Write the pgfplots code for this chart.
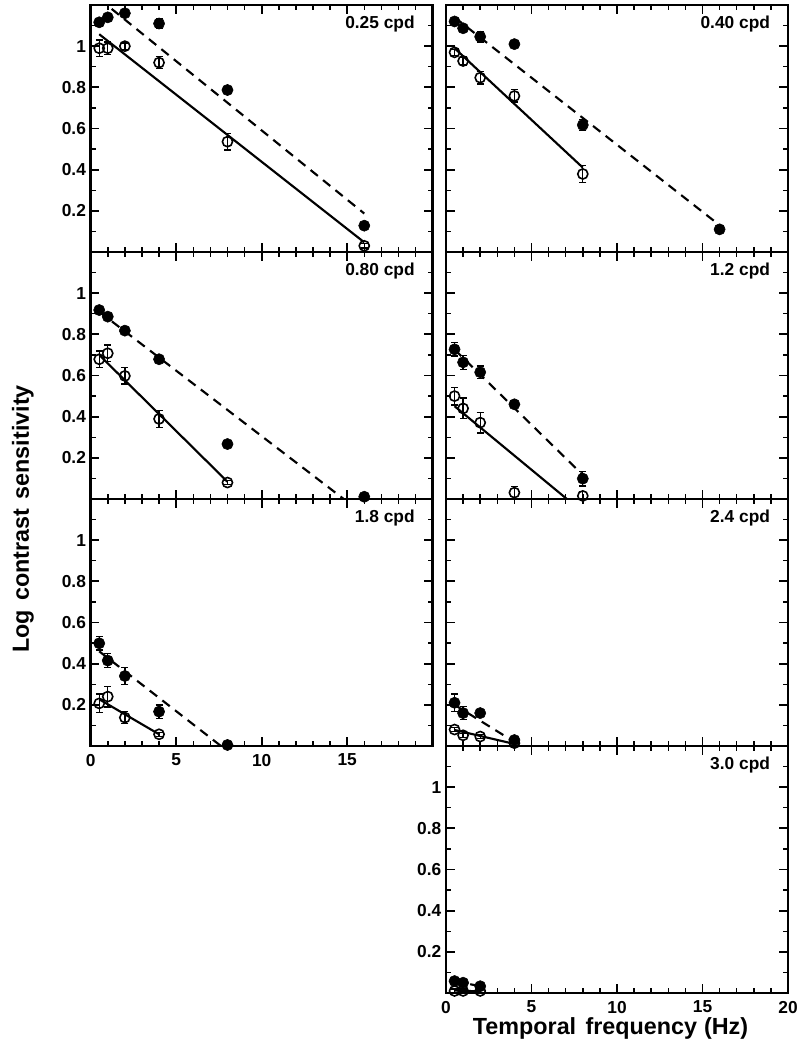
\documentclass[border=0pt]{standalone}
\usepackage{fontspec}
\setmainfont{Liberation Sans}
\usepackage{pgfplots}
\pgfplotsset{compat=1.18}

\pgfplotsset{
  panel/.style={
    scale only axis, width=256.5pt, height=185.25pt, anchor=north west,
    xmin=0, xmax=20, ymin=0, ymax=1.2,
    xtick={0,5,10,15,20}, minor xtick={1,2,3,4,6,7,8,9,11,12,13,14,16,17,18,19},
    ytick={0.2,0.4,0.6,0.8,1}, minor ytick={0.1,0.3,0.5,0.7,0.9,1.1},
    tick align=inside, tick pos=both,
    major tick length=6.5pt, minor tick length=3.8pt,
    major tick style={line width=1.3pt, black},
    minor tick style={line width=1.1pt, black},
    axis line style={line width=1.8pt},
    tick label style={font=\bfseries\fontsize{13}{15}\selectfont},
    xticklabel style={yshift=-2.5pt},
    /pgf/number format/assume math mode=true,
    xticklabels={}, yticklabels={},
  },
  fit/.style={no markers, black, line width=1.6pt},
  dfit/.style={no markers, black, line width=1.6pt, dash pattern=on 7pt off 5pt},
  filled/.style={only marks, mark=*, mark size=4.2pt, black,
    error bars/.cd, y dir=both, y explicit,
    error bar style={line width=1pt, black},
    error mark options={line width=1pt, mark size=2.6pt, rotate=90}},
  open/.style={only marks, mark=o, mark size=3.8pt, black, mark options={line width=1.2pt},
    error bars/.cd, y dir=both, y explicit,
    error bar style={line width=1pt, black},
    error mark options={line width=1pt, mark size=2.6pt, rotate=90}},
}
\tikzset{lbl/.style={anchor=east, font=\bfseries\fontsize{13}{15}\selectfont}}

\begin{document}
\begin{tikzpicture}
\path[use as bounding box] (0,0) rectangle (600.75pt,-787.5pt);

% 0.25 cpd
\begin{axis}[panel, at={(68pt,-3.75pt)}, yticklabels={0.2,0.4,0.6,0.8,1}]
  \addplot[fit] coordinates {(0.5,1.058) (16,0.047)};
  \addplot[dfit] coordinates {(0.5,1.23) (16,0.187)};
  \addplot[filled] coordinates {(0.5,1.116) +- (0,0.02) (1,1.14) +- (0,0.02) (2,1.16) +- (0,0.015)
    (4,1.11) +- (0,0.025) (8,0.787) +- (0,0.015) (16,0.128) +- (0,0.01)};
  \addplot[open] coordinates {(0.5,0.99) +- (0,0.04) (1,0.99) +- (0,0.03) (2,1.0) +- (0,0.015)
    (4,0.92) +- (0,0.03) (8,0.536) +- (0,0.04) (16,0.03) +- (0,0.01)};
  \node[lbl] at ([xshift=-10pt,yshift=-14.25pt]rel axis cs:1,1) {0.25 cpd};
\end{axis}

% 0.40 cpd
\begin{axis}[panel, at={(334.5pt,-3.75pt)}]
  \addplot[fit] coordinates {(0.5,0.99) (8,0.41)};
  \addplot[dfit] coordinates {(0.5,1.14) (16,0.13)};
  \addplot[filled] coordinates {(0.5,1.12) +- (0,0.015) (1,1.087) +- (0,0.015) (2,1.046) +- (0,0.025)
    (4,1.01) +- (0,0.01) (8,0.617) +- (0,0.028) (16,0.11) +- (0,0.01)};
  \addplot[open] coordinates {(0.5,0.97) +- (0,0.015) (1,0.928) +- (0,0.02) (2,0.847) +- (0,0.03)
    (4,0.758) +- (0,0.03) (8,0.379) +- (0,0.04)};
  \node[lbl] at ([xshift=-10pt,yshift=-14.25pt]rel axis cs:1,1) {0.40 cpd};
\end{axis}

% 0.80 cpd
\begin{axis}[panel, at={(68pt,-189pt)}, yticklabels={0.2,0.4,0.6,0.8,1}]
  \addplot[fit] coordinates {(0.5,0.70) (8,0.084)};
  \addplot[dfit] coordinates {(0.5,0.91) (14.8,0)};
  \addplot[filled] coordinates {(0.5,0.918) +- (0,0.01) (1,0.886) +- (0,0.01) (2,0.818) +- (0,0.01)
    (4,0.679) +- (0,0.01) (8,0.267) +- (0,0.01) (16,0.011) +- (0,0.01)};
  \addplot[open] coordinates {(0.5,0.679) +- (0,0.04) (1,0.708) +- (0,0.04) (2,0.598) +- (0,0.04)
    (4,0.389) +- (0,0.042) (8,0.08) +- (0,0.01)};
  \node[lbl] at ([xshift=-10pt,yshift=-14.25pt]rel axis cs:1,1) {0.80 cpd};
\end{axis}

% 1.2 cpd
\begin{axis}[panel, at={(334.5pt,-189pt)}]
  \addplot[fit] coordinates {(0.5,0.451) (7.07,0)};
  \addplot[dfit] coordinates {(0.5,0.726) (8,0.117)};
  \addplot[filled] coordinates {(0.5,0.727) +- (0,0.032) (1,0.664) +- (0,0.034) (2,0.616) +- (0,0.03)
    (4,0.46) +- (0,0.01) (8,0.099) +- (0,0.035)};
  \addplot[open] coordinates {(0.5,0.5) +- (0,0.043) (1,0.44) +- (0,0.05) (2,0.371) +- (0,0.05)
    (4,0.031) +- (0,0.03) (8,0.015) +- (0,0.02)};
  \node[lbl] at ([xshift=-10pt,yshift=-14.25pt]rel axis cs:1,1) {1.2 cpd};
\end{axis}

% 1.8 cpd
\begin{axis}[panel, at={(68pt,-374.25pt)}, yticklabels={0.2,0.4,0.6,0.8,1},
  xticklabels={0,5,10,15,{}}]
  \addplot[fit] coordinates {(0.5,0.227) (4,0.057)};
  \addplot[dfit] coordinates {(0.5,0.46) (7.62,0)};
  \addplot[filled] coordinates {(0.5,0.499) +- (0,0.032) (1,0.415) +- (0,0.034) (2,0.34) +- (0,0.04)
    (4,0.167) +- (0,0.032) (8,0.005) +- (0,0.005)};
  \addplot[open] coordinates {(0.5,0.207) +- (0,0.045) (1,0.24) +- (0,0.05) (2,0.138) +- (0,0.03)
    (4,0.057) +- (0,0.01)};
  \node[lbl] at ([xshift=-10pt,yshift=-14.25pt]rel axis cs:1,1) {1.8 cpd};
\end{axis}

% 2.4 cpd
\begin{axis}[panel, at={(334.5pt,-374.25pt)}]
  \addplot[fit] coordinates {(0.5,0.078) (4,0.01)};
  \addplot[dfit] coordinates {(0.5,0.2) (4,0.02)};
  \addplot[filled] coordinates {(0.5,0.21) +- (0,0.043) (1,0.16) +- (0,0.032) (2,0.16) +- (0,0.01)
    (4,0.029) +- (0,0.01)};
  \addplot[open] coordinates {(0.5,0.08) +- (0,0.01) (1,0.052) +- (0,0.01) (2,0.046) +- (0,0.01)
    (4,0.014) +- (0,0.01)};
  \node[lbl] at ([xshift=-10pt,yshift=-14.25pt]rel axis cs:1,1) {2.4 cpd};
\end{axis}

% 3.0 cpd
\begin{axis}[panel, at={(334.5pt,-559.5pt)}, yticklabels={0.2,0.4,0.6,0.8,1},
  xticklabels={0,5,10,15,20}]
  \addplot[fit] coordinates {(0.5,0.012) (2,0.008)};
  \addplot[dfit] coordinates {(0.5,0.058) (2,0.033)};
  \addplot[filled] coordinates {(0.5,0.058) +- (0,0.01) (1,0.05) +- (0,0.01) (2,0.033) +- (0,0.01)};
  \addplot[open] coordinates {(0.5,0.01) +- (0,0.01) (1,0.01) +- (0,0.01) (2,0.01) +- (0,0.01)};
  \node[lbl] at ([xshift=-10pt,yshift=-14.25pt]rel axis cs:1,1) {3.0 cpd};
\end{axis}

\node[rotate=90, font=\bfseries\fontsize{17.5}{21}\selectfont] at (17.25pt,-389.25pt)
  {Log\hspace{0.4em}contrast\hspace{0.4em}sensitivity};
\node[font=\bfseries\fontsize{17.5}{21}\selectfont] at (457.9pt,-771pt)
  {Temporal\hspace{0.4em}frequency\hspace{0.3em}(Hz)};
\end{tikzpicture}
\end{document}
